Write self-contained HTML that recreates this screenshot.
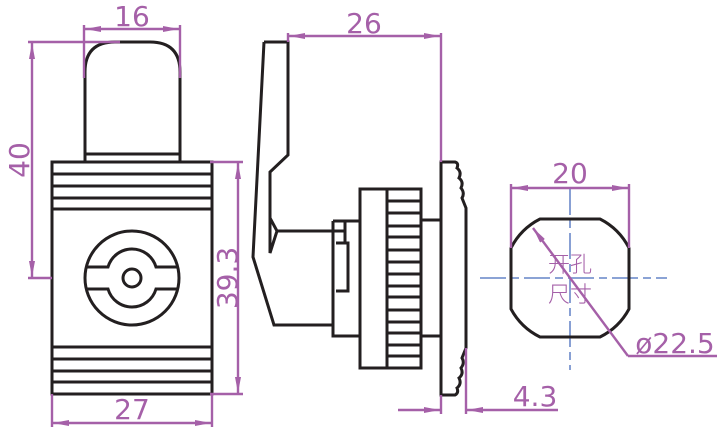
<!DOCTYPE html>
<html><head><meta charset="utf-8"><style>
html,body{margin:0;padding:0;background:#fff;width:722px;height:433px;overflow:hidden}
svg{display:block}
text{font-family:"DejaVu Sans","Liberation Sans","Noto Sans CJK SC",sans-serif;fill:#a560a8}
</style></head><body>
<svg width="722" height="433" viewBox="0 0 722 433" xmlns="http://www.w3.org/2000/svg">
<defs>
<marker id="a" viewBox="0 0 16 6" refX="16" refY="3" markerWidth="16" markerHeight="6" orient="auto-start-reverse" markerUnits="userSpaceOnUse"><path d="M0,0 L16,3 L0,6 Z" fill="#a560a8"/></marker>
</defs>
<!-- LEFT VIEW -->
<g fill="none" stroke="#231f20" stroke-width="3">
<path d="M85,162 V72 Q85,42 115,42 H150 Q180,42 180,72 V162"/>
<line x1="85" y1="154" x2="180" y2="154"/>
<rect x="52" y="162" width="160" height="232"/>
<line x1="52" y1="174" x2="212" y2="174"/>
<line x1="52" y1="186" x2="212" y2="186"/>
<line x1="52" y1="198" x2="212" y2="198"/>
<line x1="52" y1="209" x2="212" y2="209"/>
<line x1="52" y1="347" x2="212" y2="347"/>
<line x1="52" y1="359" x2="212" y2="359"/>
<line x1="52" y1="371" x2="212" y2="371"/>
<line x1="52" y1="382" x2="212" y2="382"/>
<circle cx="132" cy="278" r="47"/>
<circle cx="132" cy="278" r="9"/>
<path d="M86,267 H108 A25,25 0 0 1 156,267 H178"/>
<path d="M86,289 H108 A25,25 0 0 0 156,289 H178"/>
</g>
<g stroke="#a560a8" stroke-width="2.4" fill="none">
<line x1="84" y1="25" x2="84" y2="78"/><line x1="180" y1="25" x2="180" y2="78"/>
<line x1="85" y1="29" x2="179" y2="29" marker-start="url(#a)" marker-end="url(#a)"/>
<line x1="28" y1="42" x2="120" y2="42"/><line x1="28" y1="278" x2="52" y2="278"/>
<line x1="32" y1="43" x2="32" y2="277" marker-start="url(#a)" marker-end="url(#a)"/>
<line x1="210" y1="162" x2="243" y2="162"/><line x1="210" y1="394" x2="243" y2="394"/>
<line x1="238" y1="163" x2="238" y2="393" marker-start="url(#a)" marker-end="url(#a)"/>
<line x1="52" y1="394" x2="52" y2="427"/><line x1="212" y1="394" x2="212" y2="427"/>
<line x1="53" y1="423" x2="211" y2="423" marker-start="url(#a)" marker-end="url(#a)"/>
</g>
<text x="132" y="26" font-size="28" text-anchor="middle">16</text>
<text transform="translate(29,160) rotate(-90)" font-size="28" text-anchor="middle">40</text>
<text transform="translate(237,278) rotate(-90)" font-size="28" text-anchor="middle">39.3</text>
<text x="132" y="419" font-size="28" text-anchor="middle">27</text>
<!-- MIDDLE VIEW -->
<g fill="none" stroke="#231f20" stroke-width="3" stroke-linejoin="miter">
<path d="M264,42 H288 V155 L270,172 V253 L277,231 L270,218"/>
<path d="M264,42 L253,257 L274,325 H333"/>
<line x1="277" y1="231" x2="345" y2="231"/>
<path d="M333,221 H360 M333,221 V336 H360 M336,243 H348 V291 H336 M345,221 V243"/>
<rect x="360" y="189" width="61" height="179"/>
<line x1="387" y1="189" x2="387" y2="368"/>
<path d="M387,201 H421 M387,213 H421 M387,226 H421 M387,237 H421 M387,250 H421 M387,262 H421 M387,274 H421 M387,286 H421 M387,297 H421 M387,310 H421 M387,322 H421 M387,333 H421 M387,345 H421 M387,356 H421"/>
<path d="M421,220 H441 M421,336 H441"/>
<path d="M441,162 V395 H455 Q459,393 457,388 Q462,384 459,378 Q464,374 461,368 Q465,363 462,358 L466,348 V208 L462,198 Q465,193 461,188 Q464,182 459,178 Q462,172 457,168 Q459,163 455,162 Z"/>
</g>
<g stroke="#a560a8" stroke-width="2.4" fill="none">
<line x1="288" y1="33" x2="288" y2="42"/>
<line x1="441" y1="33" x2="441" y2="162"/>
<line x1="289" y1="36" x2="440" y2="36" marker-start="url(#a)" marker-end="url(#a)"/>
<line x1="441" y1="395" x2="441" y2="414"/><line x1="466" y1="348" x2="466" y2="414"/>
<line x1="398" y1="410" x2="440" y2="410" marker-end="url(#a)"/>
<line x1="558" y1="410" x2="467" y2="410" marker-end="url(#a)"/>
</g>
<text x="364" y="33" font-size="28" text-anchor="middle">26</text>
<text x="535" y="406" font-size="28" text-anchor="middle">4.3</text>
<!-- RIGHT VIEW -->
<g stroke="#7b96cf" stroke-width="1.8" fill="none">
<line x1="480" y1="278" x2="667" y2="278" stroke-dasharray="26,5,8,5"/>
<line x1="570" y1="189" x2="570" y2="370" stroke-dasharray="26,5,8,5"/>
</g>
<path d="M540,219 H600 A66,66 0 0 1 629,248 V309 A66,66 0 0 1 600,337 H540 A66,66 0 0 1 511,309 V248 A66,66 0 0 1 540,219 Z" fill="none" stroke="#231f20" stroke-width="3" stroke-linejoin="round"/>
<g stroke="#a560a8" stroke-width="2.4" fill="none">
<line x1="511" y1="184" x2="511" y2="248"/><line x1="629" y1="184" x2="629" y2="248"/>
<line x1="512" y1="188" x2="628" y2="188" marker-start="url(#a)" marker-end="url(#a)"/>
<line x1="628" y1="356" x2="533" y2="228" marker-end="url(#a)"/>
<line x1="628" y1="356" x2="717" y2="356"/>
</g>
<text x="570" y="183" font-size="28" text-anchor="middle">20</text>
<text x="675" y="353" font-size="28" text-anchor="middle">ø22.5</text>
<text x="570" y="272" font-size="22" text-anchor="middle" style="font-family:'Noto Sans CJK SC',sans-serif;font-weight:300">开孔</text>
<text x="570" y="302" font-size="22" text-anchor="middle" style="font-family:'Noto Sans CJK SC',sans-serif;font-weight:300">尺寸</text>
</svg>
</body></html>
